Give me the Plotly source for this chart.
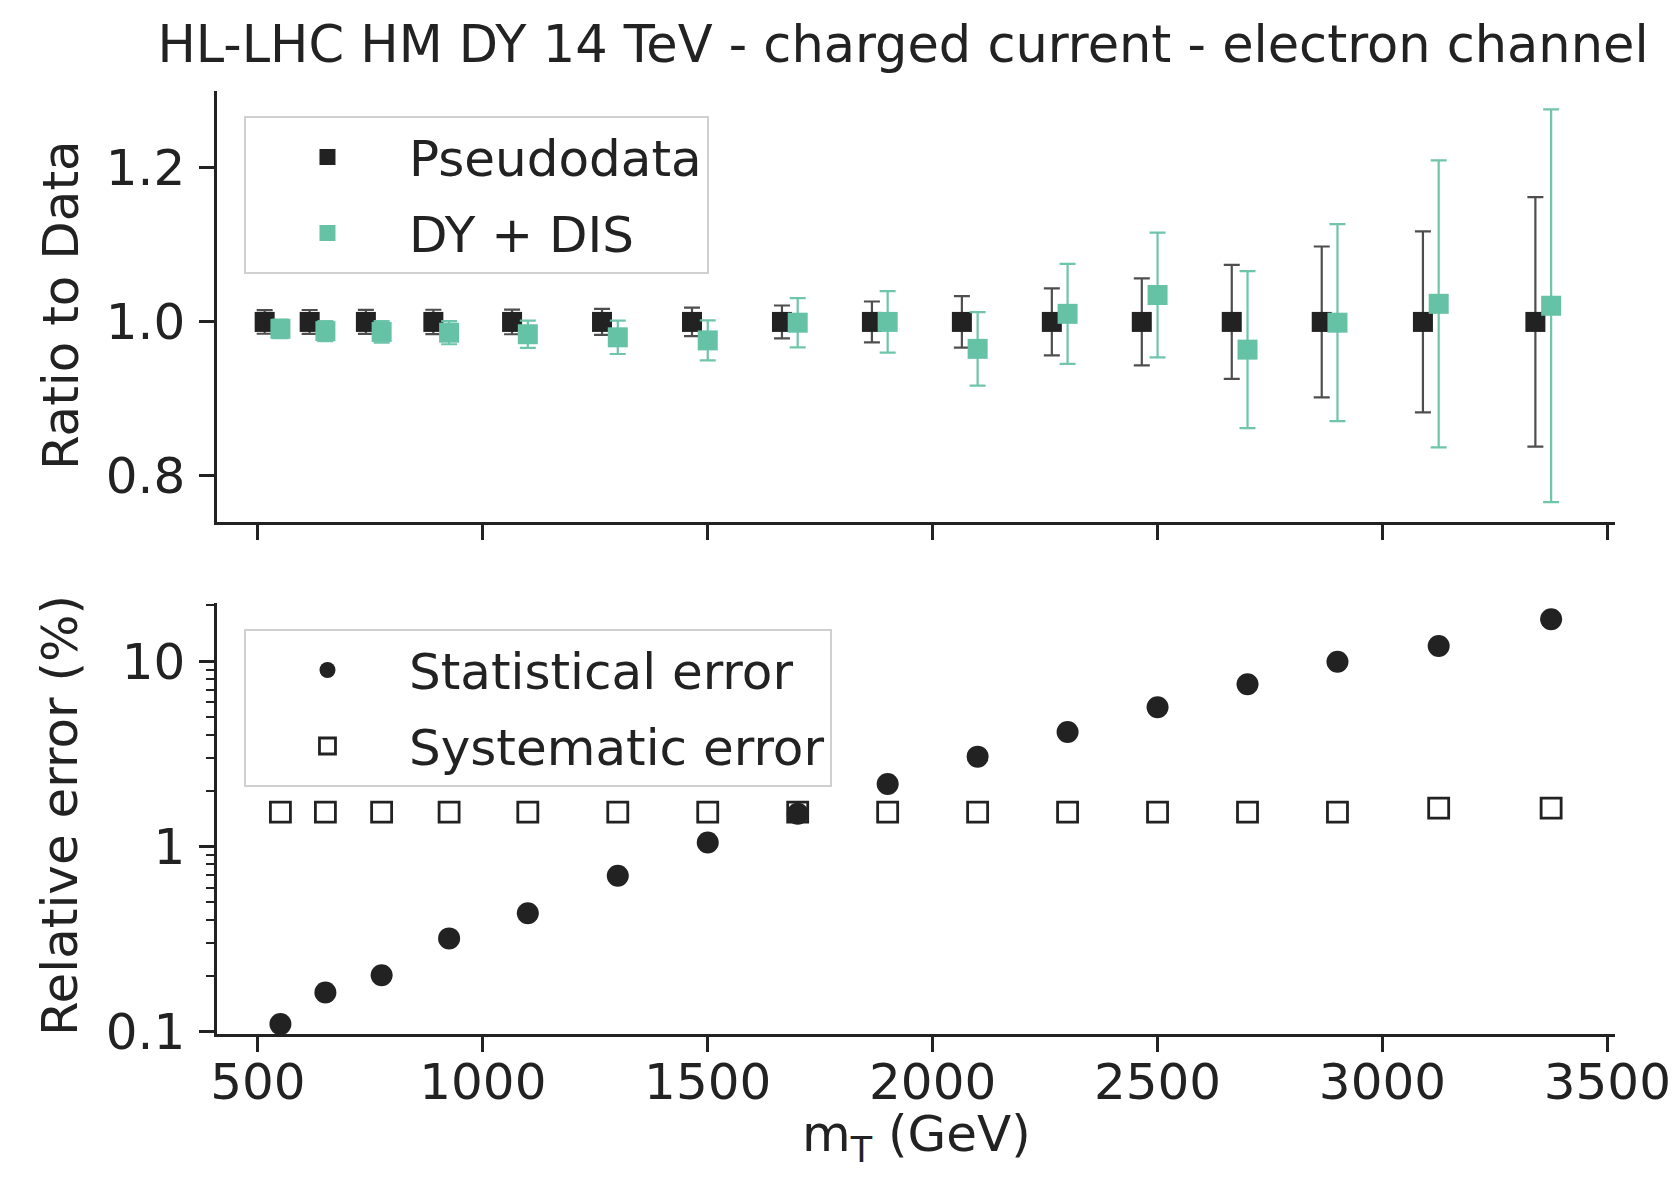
import plotly.graph_objects as go

# ---------------- data ----------------
mt = [550, 650, 775, 925, 1100, 1300, 1500, 1700, 1900, 2100, 2300, 2500, 2700, 2900, 3125, 3375]

pseudo_ratio = [1.0, 1.0, 1.0, 1.0, 1.0, 1.0, 1.0, 1.0, 1.0, 1.0, 1.0, 1.0, 1.0, 1.0, 1.0, 1.0]
pseudo_err = [0.0154, 0.0155, 0.0156, 0.0158, 0.0160, 0.0169, 0.0185, 0.0213,
              0.0265, 0.0335, 0.0435, 0.0565, 0.0740, 0.0980, 0.1175, 0.1620]

fit_ratio = [0.991, 0.988, 0.987, 0.986, 0.984, 0.980, 0.976, 0.999,
             1.000, 0.965, 1.0105, 1.035, 0.964, 0.999, 1.0235, 1.021]
fit_err = [0.012, 0.013, 0.014, 0.015, 0.0178, 0.0217, 0.026, 0.032,
           0.040, 0.0477, 0.065, 0.081, 0.102, 0.128, 0.1865, 0.255]

stat_err = [0.110, 0.163, 0.202, 0.319, 0.436, 0.695, 1.05, 1.50,
            2.17, 3.05, 4.14, 5.63, 7.49, 9.91, 12.05, 16.8]
sys_err = [1.53, 1.53, 1.53, 1.53, 1.53, 1.53, 1.53, 1.53,
           1.53, 1.53, 1.53, 1.53, 1.53, 1.53, 1.61, 1.61]

x_ticks = [500, 1000, 1500, 2000, 2500, 3000, 3500]
log_ticks = [0.1, 1, 10]
log_tick_text = ["0.1", "1", "10"]

# ---------------- style ----------------
DODGE = 35  # horizontal offset of the pseudodata points (GeV)
BLACK = "#222222"
GREEN = "#66c2a5"
FONT = "DejaVu Sans"
FS = 50

W, H = 1680, 1177

x_black = [v - DODGE for v in mt]

fig = go.Figure()

fig.add_trace(go.Scatter(
    x=x_black, y=pseudo_ratio, mode="markers", name="Pseudodata",
    marker=dict(symbol="square", size=20, color=BLACK),
    error_y=dict(type="data", array=pseudo_err, visible=True,
                 color="rgba(34,34,34,0.8)", thickness=2.2, width=8),
    xaxis="x", yaxis="y", legend="legend", legendgroup="a"))
fig.add_trace(go.Scatter(
    x=mt, y=fit_ratio, mode="markers", name="DY + DIS",
    marker=dict(symbol="square", size=20, color=GREEN),
    error_y=dict(type="data", array=fit_err, visible=True,
                 color="rgba(102,194,165,0.95)", thickness=2.2, width=8),
    xaxis="x", yaxis="y", legend="legend", legendgroup="b"))

fig.add_trace(go.Scatter(
    x=mt, y=stat_err, mode="markers", name="Statistical error",
    marker=dict(symbol="circle", size=22, color=BLACK),
    xaxis="x2", yaxis="y2", legend="legend2", legendgroup="c"))
fig.add_trace(go.Scatter(
    x=mt, y=sys_err, mode="markers", name="Systematic error",
    marker=dict(symbol="square-open", size=20, color=BLACK,
                line=dict(width=2.8, color=BLACK)),
    xaxis="x2", yaxis="y2", legend="legend2", legendgroup="d"))

axis_common = dict(
    showline=True, linewidth=2.5, linecolor=BLACK, mirror=False,
    ticks="outside", ticklen=15, tickwidth=2.5, tickcolor=BLACK,
    showgrid=False, zeroline=False, automargin=False,
    tickfont=dict(family=FONT, size=FS, color=BLACK),
)

legend_common = dict(
    xanchor="left", yanchor="top",
    bgcolor="rgba(255,255,255,0.85)", bordercolor="#d0d0d0", borderwidth=2,
    font=dict(family=FONT, size=FS, color=BLACK),
    itemwidth=153, tracegroupgap=8,
)

label_font = dict(family=FONT, size=FS, color=BLACK)
annotations = [
    dict(text="m<sub>T</sub> (GeV)", xref="paper", yref="paper",
         x=0.5, y=-0.146, xanchor="center", yanchor="bottom",
         showarrow=False, font=label_font),
    dict(text="Ratio to Data", xref="paper", yref="paper",
         x=-0.1116, y=0.773, xanchor="center", yanchor="middle",
         textangle=-90, showarrow=False, font=label_font),
    dict(text="Relative error (%)", xref="paper", yref="paper",
         x=-0.1125, y=0.232, xanchor="center", yanchor="middle",
         textangle=-90, showarrow=False, font=label_font),
]

fig.update_layout(
    width=W, height=H,
    margin=dict(l=217, r=65, t=91, b=143),
    paper_bgcolor="white", plot_bgcolor="white",
    font=dict(family=FONT, size=FS, color=BLACK),
    title=dict(text="HL-LHC HM DY 14 TeV - charged current - electron channel",
               x=903 / W, xanchor="center", y=1 - 44 / H, yanchor="middle",
               font=dict(family=FONT, size=51, color=BLACK)),
    xaxis=dict(domain=[0, 1], anchor="y", matches="x2", range=[409, 3517],
               tickmode="array", tickvals=x_ticks, showticklabels=False,
               **axis_common),
    yaxis=dict(domain=[0.5429, 1], anchor="x", range=[0.74, 1.30],
               tickmode="linear", tick0=0.8, dtick=0.2, tickformat=".1f",
               ticklabelstandoff=4, **axis_common),
    xaxis2=dict(domain=[0, 1], anchor="y2", range=[409, 3517],
                tickmode="array", tickvals=x_ticks, ticklabelstandoff=-13,
                **axis_common),
    yaxis2=dict(domain=[0, 0.457], anchor="x2", type="log", range=[-1.012, 1.313],
                tickmode="array", tickvals=log_ticks, ticktext=log_tick_text,
                ticklabelstandoff=4,
                minor=dict(ticks="outside", ticklen=8, tickwidth=1.8, tickcolor=BLACK,
                           tickmode="array",
                           tickvals=[0.2, 0.3, 0.4, 0.5, 0.6, 0.7, 0.8, 0.9,
                                     2, 3, 4, 5, 6, 7, 8, 9, 20]),
                **axis_common),
    legend=dict(x=0.0193, y=0.9735, **legend_common),
    legend2=dict(x=0.0193, y=0.4295, **legend_common),
    annotations=annotations,
    showlegend=True,
)

# remove the browser's default page margin so the figure fills the window exactly
fig.write_html(
    "out.html",
    config={"displayModeBar": False},
    post_script=("document.body.style.margin='0';"
                 "document.body.style.overflow='hidden';"
                 "document.documentElement.style.overflow='hidden';"),
)
